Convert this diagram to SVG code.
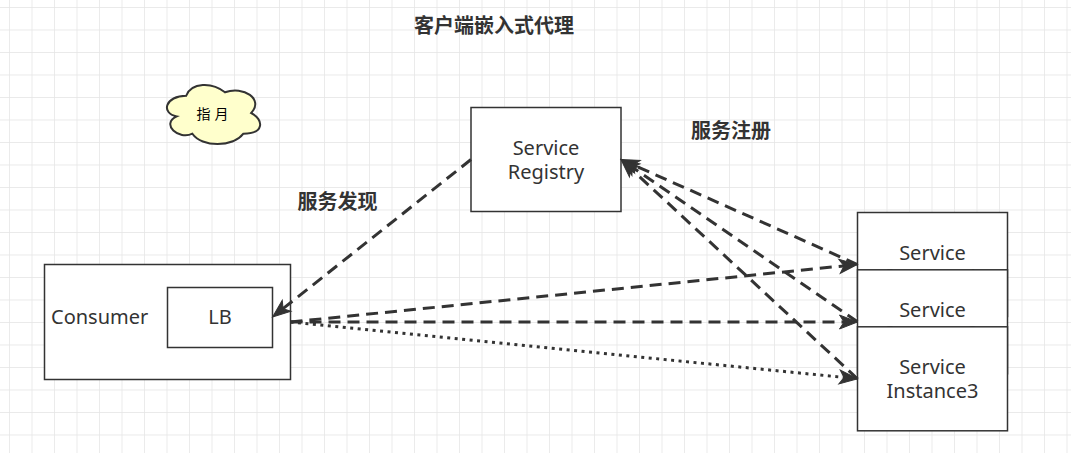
<svg xmlns="http://www.w3.org/2000/svg" width="1071" height="453" viewBox="0 0 1071 453">
  <style>
    .box { fill: #ffffff; stroke: #333333; stroke-width: 1.5; }
    .cloud { fill: #ffffcc; stroke: #333333; stroke-width: 2; }
    .lbl { font-family: "Noto Sans", "Open Sans", sans-serif; font-size: 20px; fill: #333333; }
    .mid { text-anchor: middle; }
    .cjk { font-family: "Noto Sans CJK SC", "Noto Sans", sans-serif; font-size: 20px; font-weight: bold; fill: #333333; text-anchor: middle; }
    .note { font-family: "Noto Sans CJK SC", sans-serif; font-size: 14px; letter-spacing: 4px; fill: #000000; text-anchor: middle; }
    .edge { fill: none; stroke: #333333; stroke-width: 3; }
    .dash { stroke-dasharray: 12 7; }
    .dot { stroke-dasharray: 3 4.5; }
  </style>
  <defs>
    <pattern id="grid" patternUnits="userSpaceOnUse" x="9" y="7" width="22.5" height="22.5">
      <path d="M0,0 H22.5 M0,0 V22.5" fill="none" stroke="#e4e4e4" stroke-width="1.4"/>
    </pattern>
    <marker id="head" markerUnits="userSpaceOnUse" markerWidth="40" markerHeight="40" refX="0" refY="0" orient="auto" overflow="visible">
      <path d="M6,0 L-12,-7 L-7.5,0 L-12,7 Z" fill="#333333" stroke="#333333" stroke-width="1"/>
    </marker>
  </defs>

  <!-- page background with grid -->
  <rect x="0" y="0" width="1071" height="453" fill="#ffffff"/>
  <rect x="0" y="0" width="1071" height="453" fill="url(#grid)"/>

  <!-- free labels -->
  <g id="title">
    <text class="cjk" x="494" y="33">客户端嵌入式代理</text>
  </g>
  <g id="label-register">
    <text class="cjk" x="731" y="138">服务注册</text>
  </g>
  <g id="label-discover">
    <text class="cjk" x="337.5" y="209">服务发现</text>
  </g>

  <!-- note cloud -->
  <g id="note-cloud">
    <path class="cloud" d="M186.2,95.75 C165.4,95.75 160.2,113 176.8,116.45 C160.2,124.04 178.9,140.6 192.4,133.7 C201.8,147.5 233,147.5 243.4,133.7 C264.2,133.7 264.2,119.9 251.2,113 C264.2,99.2 243.4,85.4 225,92.3 C212.2,81.95 191.4,81.95 186.2,95.75 Z"/>
    <text class="note" x="214.5" y="119">指月</text>
  </g>

  <!-- registry -->
  <g id="service-registry">
    <rect class="box" x="471" y="107.5" width="150" height="104"/>
    <text class="lbl mid" x="546" y="155">Service</text>
    <text class="lbl mid" x="546" y="178.5">Registry</text>
  </g>

  <!-- consumer with embedded load balancer -->
  <g id="consumer">
    <rect class="box" x="44.5" y="264.5" width="246" height="115"/>
    <text class="lbl" x="51" y="324">Consumer</text>
  </g>
  <g id="lb">
    <rect class="box" x="167.5" y="287.5" width="105" height="60"/>
    <text class="lbl mid" x="220" y="324">LB</text>
  </g>

  <!-- service instances, stacked -->
  <g id="instance1">
    <rect class="box" x="857.5" y="212.5" width="150" height="104"/>
    <text class="lbl mid" x="932.5" y="259.5">Service</text>
    <text class="lbl mid" x="932.5" y="283">Instance1</text>
  </g>
  <g id="instance2">
    <rect class="box" x="857.5" y="269.8" width="150" height="104"/>
    <text class="lbl mid" x="932.5" y="316.8">Service</text>
    <text class="lbl mid" x="932.5" y="340.3">Instance2</text>
  </g>
  <g id="instance3">
    <rect class="box" x="857.5" y="326.8" width="150" height="104"/>
    <text class="lbl mid" x="932.5" y="373.5">Service</text>
    <text class="lbl mid" x="932.5" y="397.5">Instance3</text>
  </g>

  <!-- connectors -->
  <g id="connectors">
    <path class="edge dash" d="M471,159.5 L277.2,313.3" marker-end="url(#head)"/>
    <path class="edge dash" d="M857.5,264.5 L626.5,161.9" marker-end="url(#head)"/>
    <path class="edge dash" d="M857.5,321.8 L626,162.9" marker-end="url(#head)"/>
    <path class="edge dash" d="M857.5,378.8 L625.4,163.6" marker-end="url(#head)"/>
    <path class="edge dash" d="M290.5,322 L851.5,265.1" marker-end="url(#head)"/>
    <path class="edge dash" d="M290.5,322 L851.5,322" marker-end="url(#head)"/>
    <path class="edge dot" d="M290.5,322 L851.5,378.2" marker-end="url(#head)"/>
  </g>
</svg>
